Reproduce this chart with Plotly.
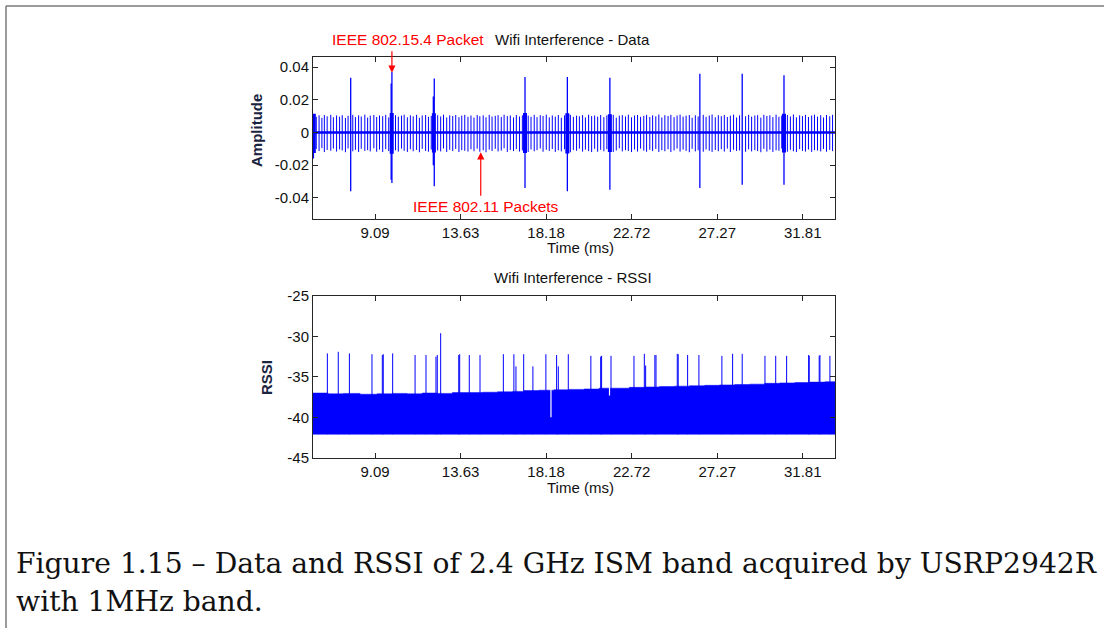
import plotly.graph_objects as go

W, H = 1104, 628

# ---------------- Data : top plot (Wifi Interference - Data) ----------------
x_range = [5.797, 33.53]
x_tickvals = [9.0909, 13.6364, 18.1818, 22.7273, 27.2727, 31.8182]
x_ticktext = ["9.09", "13.63", "18.18", "22.72", "27.27", "31.81"]

amp_range = [-0.0528, 0.0464]
amp_tickvals = [0.04, 0.02, 0.0, -0.02, -0.04]
amp_ticktext = ["0.04", "0.02", "0", "-0.02", "-0.04"]

wifi_t = [5.86, 5.97, 6.12, 6.27, 6.40, 6.55, 6.74, 6.88, 7.05, 7.21,
          7.35, 7.52, 7.66, 7.91, 8.05, 8.22, 8.36, 8.55, 8.70, 8.84,
          9.03, 9.18, 9.33, 9.50, 9.66, 9.82, 10.18, 10.33, 10.50, 10.64,
          10.81, 10.97, 11.12, 11.30, 11.45, 11.60, 11.78, 11.93, 12.08, 12.42,
          12.58, 12.73, 12.90, 13.06, 13.22, 13.38, 13.55, 13.70, 13.86, 14.03,
          14.19, 14.35, 14.52, 14.66, 14.84, 14.99, 15.16, 15.31, 15.48, 15.63,
          15.80, 15.95, 16.12, 16.28, 16.45, 16.60, 16.77, 16.92, 17.23, 17.38,
          17.55, 17.70, 17.87, 18.02, 18.19, 18.35, 18.51, 18.67, 18.83, 18.99,
          19.16, 19.47, 19.63, 19.80, 19.95, 20.12, 20.27, 20.44, 20.60, 20.76,
          20.92, 21.08, 21.25, 21.41, 21.75, 21.91, 22.07, 22.23, 22.40, 22.55,
          22.72, 22.88, 23.04, 23.20, 23.37, 23.52, 23.69, 23.84, 24.01, 24.17,
          24.33, 24.49, 24.66, 24.81, 24.98, 25.14, 25.30, 25.46, 25.62, 25.79,
          25.94, 26.11, 26.26, 26.53, 26.68, 26.85, 27.00, 27.17, 27.33, 27.49,
          27.65, 27.81, 27.97, 28.14, 28.30, 28.46, 28.78, 28.94, 29.10, 29.27,
          29.42, 29.59, 29.75, 29.91, 30.07, 30.23, 30.40, 30.55, 30.70, 31.00,
          31.16, 31.32, 31.48, 31.65, 31.80, 31.96, 32.12, 32.29, 32.44, 32.60,
          32.77, 32.92, 33.08, 33.25, 33.40]
wifi_hi = [0.0110, 0.0096, 0.0105, 0.0090, 0.0107, 0.0099, 0.0108, 0.0093, 0.0104, 0.0097,
           0.0106, 0.0089, 0.0102, 0.0108, 0.0094, 0.0105, 0.0098, 0.0109, 0.0091, 0.0103,
           0.0107, 0.0095, 0.0104, 0.0100, 0.0108, 0.0092, 0.0106, 0.0097, 0.0103, 0.0109,
           0.0093, 0.0105, 0.0099, 0.0108, 0.0090, 0.0104, 0.0107, 0.0096, 0.0102, 0.0106,
           0.0098, 0.0109, 0.0092, 0.0105, 0.0101, 0.0107, 0.0094, 0.0103, 0.0108, 0.0096,
           0.0104, 0.0091, 0.0107, 0.0099, 0.0105, 0.0093, 0.0108, 0.0097, 0.0102, 0.0106,
           0.0095, 0.0109, 0.0100, 0.0104, 0.0092, 0.0107, 0.0098, 0.0105, 0.0103, 0.0096,
           0.0108, 0.0094, 0.0106, 0.0101, 0.0109, 0.0093, 0.0104, 0.0097, 0.0107, 0.0090,
           0.0105, 0.0108, 0.0096, 0.0103, 0.0099, 0.0106, 0.0092, 0.0109, 0.0100, 0.0104,
           0.0097, 0.0107, 0.0094, 0.0105, 0.0108, 0.0091, 0.0103, 0.0106, 0.0098, 0.0109,
           0.0093, 0.0104, 0.0107, 0.0096, 0.0102, 0.0108, 0.0095, 0.0105, 0.0099, 0.0110,
           0.0092, 0.0106, 0.0101, 0.0108, 0.0094, 0.0104, 0.0109, 0.0097, 0.0103, 0.0107,
           0.0090, 0.0105, 0.0098, 0.0108, 0.0096, 0.0104, 0.0110, 0.0093, 0.0106, 0.0100,
           0.0107, 0.0095, 0.0103, 0.0109, 0.0092, 0.0105, 0.0099, 0.0108, 0.0097, 0.0104,
           0.0106, 0.0091, 0.0108, 0.0101, 0.0105, 0.0094, 0.0109, 0.0096, 0.0103, 0.0107,
           0.0098, 0.0110, 0.0093, 0.0105, 0.0100, 0.0108, 0.0095, 0.0104, 0.0109, 0.0097,
           0.0106, 0.0092, 0.0107, 0.0099, 0.0108, 0.0110, 0.0096, 0.0105, 0.0101, 0.0104]
wifi_lo = [-0.0118, -0.0101, -0.0114, -0.0096, -0.0120, -0.0107, -0.0112, -0.0099, -0.0117, -0.0104,
           -0.0110, -0.0121, -0.0098, -0.0115, -0.0106, -0.0119, -0.0100, -0.0113, -0.0108, -0.0116,
           -0.0097, -0.0118, -0.0105, -0.0120, -0.0102, -0.0114, -0.0109, -0.0117, -0.0099, -0.0112,
           -0.0119, -0.0103, -0.0115, -0.0107, -0.0121, -0.0100, -0.0113, -0.0118, -0.0104, -0.0110,
           -0.0116, -0.0098, -0.0119, -0.0106, -0.0114, -0.0101, -0.0120, -0.0108, -0.0112, -0.0117,
           -0.0103, -0.0115, -0.0099, -0.0118, -0.0109, -0.0121, -0.0105, -0.0113, -0.0100, -0.0116,
           -0.0111, -0.0097, -0.0119, -0.0107, -0.0114, -0.0102, -0.0117, -0.0110, -0.0120, -0.0104,
           -0.0115, -0.0108, -0.0098, -0.0118, -0.0106, -0.0113, -0.0101, -0.0119, -0.0109, -0.0116,
           -0.0103, -0.0121, -0.0107, -0.0112, -0.0099, -0.0117, -0.0105, -0.0114, -0.0120, -0.0100,
           -0.0118, -0.0106, -0.0115, -0.0102, -0.0119, -0.0110, -0.0097, -0.0116, -0.0108, -0.0113,
           -0.0120, -0.0104, -0.0117, -0.0099, -0.0111, -0.0118, -0.0106, -0.0114, -0.0101, -0.0119,
           -0.0108, -0.0115, -0.0103, -0.0120, -0.0110, -0.0098, -0.0117, -0.0105, -0.0113, -0.0121,
           -0.0100, -0.0116, -0.0109, -0.0118, -0.0104, -0.0112, -0.0119, -0.0107, -0.0115, -0.0102,
           -0.0117, -0.0099, -0.0120, -0.0106, -0.0113, -0.0110, -0.0118, -0.0103, -0.0116, -0.0108,
           -0.0114, -0.0121, -0.0100, -0.0117, -0.0105, -0.0119, -0.0109, -0.0112, -0.0098, -0.0118,
           -0.0106, -0.0115, -0.0120, -0.0102, -0.0113, -0.0117, -0.0104, -0.0119, -0.0108, -0.0111,
           -0.0116, -0.0101, -0.0118, -0.0107, -0.0114, -0.0120, -0.0103, -0.0117, -0.0109, -0.0112]

burst_t = [5.84, 9.98, 12.22, 17.06, 19.31, 21.57, 30.82]
burst_hi = [0.0115, 0.0120, 0.0118, 0.0120, 0.0118, 0.0112, 0.0115]
burst_lo = [-0.0125, -0.0130, -0.0122, -0.0125, -0.0128, -0.0120, -0.0122]

spike_t = [5.82, 7.80, 9.95, 9.99, 12.19, 12.24, 17.06, 19.31, 21.57, 26.35, 28.60, 30.82]
spike_hi = [0.0100, 0.0335, 0.0300, 0.0370, 0.0220, 0.0330, 0.0340, 0.0340, 0.0335, 0.0360, 0.0360, 0.0350]
spike_lo = [-0.0160, -0.0360, -0.0290, -0.0310, -0.0200, -0.0330, -0.0340, -0.0360, -0.0350, -0.0340, -0.0320, -0.0320]

baseline_level = 0.0

# ---------------- Data : bottom plot (Wifi Interference - RSSI) ----------------
rssi_range = [-45, -25]
rssi_tickvals = [-25, -30, -35, -40, -45]
rssi_floor = -42.1
env_t = [5.797, 6.6, 7.4, 8.3, 9.2, 10.0, 10.8, 11.6, 12.4, 13.2, 14.0, 14.8,
         15.6, 16.4, 17.0, 17.8, 18.6, 19.4, 20.2, 21.0, 21.8, 22.6, 23.4,
         24.2, 25.0, 25.8, 26.6, 27.4, 28.2, 29.0, 29.8, 30.6, 31.4, 32.2, 33.0, 33.53]
env_v = [-37.0, -37.1, -37.05, -37.15, -37.1, -37.05, -37.1, -37.0, -37.05, -36.95, -36.95, -36.9,
         -36.85, -36.8, -36.7, -36.65, -36.6, -36.55, -36.5, -36.4, -36.4, -36.3, -36.25,
         -36.2, -36.15, -36.1, -36.05, -36.0, -35.95, -35.9, -35.8, -35.75, -35.7, -35.65, -35.6, -35.6]

rssi_spike_t = [6.56, 7.14, 7.73, 8.93, 9.48, 9.53, 10.03, 11.22, 11.80, 12.33, 12.40, 12.58,
                13.54, 13.59, 14.10, 14.67, 15.91, 16.47, 16.58, 16.99, 17.48, 18.17, 18.74,
                18.83, 19.36, 20.56, 21.08, 21.13, 21.63, 22.85, 23.40, 23.47, 23.96, 24.02,
                25.15, 25.20, 25.70, 26.30, 27.52, 28.09, 28.60, 29.81, 30.38, 30.96, 32.13,
                32.16, 32.69, 32.73, 33.26]
rssi_spike_v = [-32.1, -31.9, -32.1, -32.2, -32.3, -32.2, -32.1, -32.3, -32.3, -32.5, -32.3, -29.6,
                -32.3, -32.2, -32.3, -32.3, -32.2, -32.2, -33.7, -32.2, -33.7, -32.2, -32.3,
                -33.7, -32.2, -32.4, -32.5, -32.4, -32.4, -32.4, -32.15, -33.6, -32.3, -32.3,
                -32.15, -32.2, -32.3, -32.3, -32.4, -32.15, -32.15, -32.4, -32.4, -32.4, -32.3,
                -32.4, -32.4, -32.3, -32.4]
notch_t = [18.44, 21.55]
notch_v = [-40.0, -37.3]

caption_lines = ["Figure 1.15 \u2013 Data and RSSI of 2.4 GHz ISM band acquired by USRP2942R",
                 "with 1MHz band."]

BLUE = "#0000FF"


def px(x):
    return x / W


def py(y):
    return 1 - y / H


def vlines(ts, lo, hi):
    xs, ys = [], []
    for t, a, b in zip(ts, lo, hi):
        xs += [t, t, None]
        ys += [a, b, None]
    return xs, ys


fig = go.Figure()

fig.add_trace(go.Scatter(x=x_range, y=[baseline_level, baseline_level], mode="lines",
                         line=dict(color=BLUE, width=2.5), xaxis="x", yaxis="y", hoverinfo="skip"))
xs, ys = vlines(wifi_t, wifi_lo, wifi_hi)
fig.add_trace(go.Scatter(x=xs, y=ys, mode="lines", line=dict(color=BLUE, width=1),
                         xaxis="x", yaxis="y", hoverinfo="skip"))
xs, ys = vlines(burst_t, burst_lo, burst_hi)
fig.add_trace(go.Scatter(x=xs, y=ys, mode="lines", line=dict(color=BLUE, width=4),
                         xaxis="x", yaxis="y", hoverinfo="skip"))
xs, ys = vlines(spike_t, spike_lo, spike_hi)
fig.add_trace(go.Scatter(x=xs, y=ys, mode="lines", line=dict(color=BLUE, width=1.3),
                         xaxis="x", yaxis="y", hoverinfo="skip"))

band_x = env_t + [env_t[-1], env_t[0]]
band_y = env_v + [rssi_floor, rssi_floor]
fig.add_trace(go.Scatter(x=band_x, y=band_y, mode="lines", fill="toself", fillcolor=BLUE,
                         line=dict(color=BLUE, width=0.5, shape="hv"),
                         xaxis="x2", yaxis="y2", hoverinfo="skip"))
xs, ys = vlines(rssi_spike_t, [rssi_floor] * len(rssi_spike_t), rssi_spike_v)
fig.add_trace(go.Scatter(x=xs, y=ys, mode="lines", line=dict(color=BLUE, width=1),
                         xaxis="x2", yaxis="y2", hoverinfo="skip"))
xs, ys = vlines(notch_t, notch_v, [-35.9, -35.9])
fig.add_trace(go.Scatter(x=xs, y=ys, mode="lines", line=dict(color="white", width=1.2),
                         xaxis="x2", yaxis="y2", hoverinfo="skip"))

TICKFONT = dict(family="Liberation Sans, Arial, sans-serif", size=15, color="#111111")
axis_common = dict(showline=True, linecolor="#262626", linewidth=1, mirror="ticks",
                   ticks="inside", ticklen=5, tickcolor="#262626", showgrid=False,
                   zeroline=False, tickfont=TICKFONT, fixedrange=True, automargin=False)

L, R = px(313), px(835)
fig.update_layout(
    width=W, height=H, autosize=False,
    margin=dict(l=0, r=0, t=0, b=0, pad=0, autoexpand=False),
    paper_bgcolor="white", plot_bgcolor="white",
    showlegend=False,
    xaxis=dict(domain=[L, R], range=x_range, tickvals=x_tickvals, ticktext=x_ticktext,
               anchor="y", **axis_common),
    yaxis=dict(domain=[py(218.7), py(56.7)], range=amp_range, tickvals=amp_tickvals,
               ticktext=amp_ticktext, anchor="x", **axis_common),
    xaxis2=dict(domain=[L, R], range=x_range, tickvals=x_tickvals, ticktext=x_ticktext,
                anchor="y2", **axis_common),
    yaxis2=dict(domain=[py(457.7), py(296)], range=rssi_range, tickvals=rssi_tickvals,
                ticktext=[str(v) for v in rssi_tickvals], anchor="x2", **axis_common),
)

TXT = dict(family="Liberation Sans, Arial, sans-serif", size=15, color="#111111")
RED = dict(family="Liberation Sans, Arial, sans-serif", size=15.5, color="#FF0000")
LAB = dict(family="Liberation Sans, Arial, sans-serif", size=15, color="#1a2440")
ann = [
    dict(text="Wifi Interference - Data", x=px(572), y=py(39.5), font=TXT),
    dict(text="Wifi Interference - RSSI", x=px(573), y=py(277.5), font=TXT),
    dict(text="Time (ms)", x=px(580), y=py(247), font=TXT),
    dict(text="Time (ms)", x=px(580), y=py(487), font=TXT),
    dict(text="<b>Amplitude</b>", x=px(256), y=py(131), font=LAB, textangle=-90),
    dict(text="<b>RSSI</b>", x=px(266), y=py(378), font=LAB, textangle=-90),
    dict(text="IEEE 802.15.4 Packet", x=px(408), y=py(40), font=RED),
    dict(text="IEEE 802.11 Packets", x=px(486), y=py(206), font=RED),
]
for a in ann:
    fig.add_annotation(xref="paper", yref="paper", xanchor="center", yanchor="middle",
                       showarrow=False, **a)

fig.add_annotation(x=9.99, y=0.0366, xref="x", yref="y", text="", showarrow=True,
                   ax=0, ay=-23, arrowcolor="#FF0000", arrowhead=2, arrowsize=1.2, arrowwidth=1.2)
fig.add_annotation(x=14.71, y=-0.0121, xref="x", yref="y", text="", showarrow=True,
                   ax=0, ay=45, arrowcolor="#FF0000", arrowhead=2, arrowsize=1.2, arrowwidth=1.2)

for i, line in enumerate(caption_lines):
    fig.add_annotation(text=line, xref="paper", yref="paper", x=px(14), y=py(563 + 38 * i),
                       xanchor="left", yanchor="middle", showarrow=False,
                       font=dict(family="DejaVu Serif, serif", size=28.2, color="#111111"))

fig.add_shape(type="line", xref="paper", yref="paper", x0=px(6), x1=1.0, y0=py(6), y1=py(6),
              line=dict(color="#7a7a7a", width=1.5))
fig.add_shape(type="line", xref="paper", yref="paper", x0=px(6), x1=px(6), y0=py(6), y1=0.0,
              line=dict(color="#7a7a7a", width=1.5))

fig.write_html(
    "out.html", config={"displayModeBar": False},
    post_script=("document.documentElement.style.margin='0';"
                 "document.body.style.margin='0';document.body.style.overflow='hidden';"
                 "var d=document.getElementById('{plot_id}');"
                 "d.style.position='fixed';d.style.top='0px';d.style.left='0px';"),
)
